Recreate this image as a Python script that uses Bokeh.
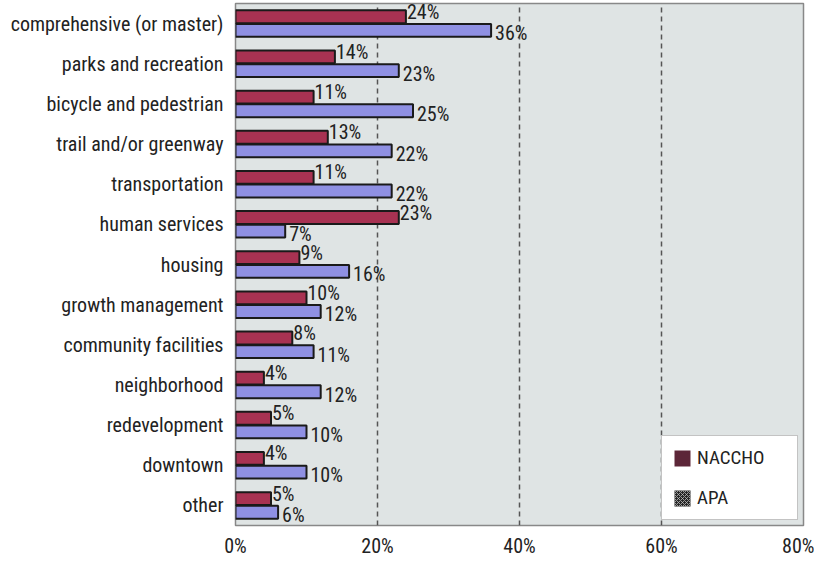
from bokeh.plotting import figure
from bokeh.models import ColumnDataSource, FactorRange, FixedTicker, Legend, LegendItem
from bokeh.transform import dodge
from bokeh.core.properties import value
from bokeh.embed import file_html
from bokeh.resources import INLINE

categories = ["comprehensive (or master)", "parks and recreation", "bicycle and pedestrian",
              "trail and/or greenway", "transportation", "human services", "housing",
              "growth management", "community facilities", "neighborhood", "redevelopment",
              "downtown", "other"]
naccho = [24, 14, 11, 13, 11, 23, 9, 10, 8, 4, 5, 4, 5]
apa = [36, 23, 25, 22, 22, 7, 16, 12, 11, 12, 10, 10, 6]
x_ticks = [0, 20, 40, 60, 80]
x_tick_labels = ["0%", "20%", "40%", "60%", "80%"]

FONT = "Roboto Condensed, Liberation Sans Narrow, Arial Narrow, sans-serif"
FS = "20px"

src = ColumnDataSource(dict(
    cat=categories, naccho=naccho, apa=apa,
    nlab=[f"{v}%" for v in naccho], alab=[f"{v}%" for v in apa],
))

p = figure(width=814, height=560, output_backend="svg", toolbar_location=None,
           y_range=FactorRange(*categories[::-1]), x_range=(0, 80),
           min_border_left=235, min_border_right=11, min_border_top=3, min_border_bottom=0)
p.background_fill_color = "#dfe4e4"
p.border_fill_color = "white"
p.outline_line_color = "#888888"
p.outline_line_width = 1.5

nr = p.hbar(y=dodge("cat", 0.17, range=p.y_range), right="naccho", left=0, height=0.32,
            source=src, fill_color="#a83252", line_color="#1a1a1a", line_width=2)
ar = p.hbar(y=dodge("cat", -0.17, range=p.y_range), right="apa", left=0, height=0.32,
            source=src, fill_color="#8f90e3", line_color="#1a1a1a", line_width=2)

p.text(x="naccho", y=dodge("cat", 0.17, range=p.y_range), text="nlab", source=src,
       x_offset=1, y_offset=-5, text_baseline="middle", text_align="left",
       text_font=value(FONT), text_font_size=FS, text_color="#222222")
p.text(x="apa", y=dodge("cat", -0.17, range=p.y_range), text="alab", source=src,
       x_offset=4, y_offset=3, text_baseline="middle", text_align="left",
       text_font=value(FONT), text_font_size=FS, text_color="#222222")

# legend swatches (zero-width bars at the axis origin)
ln = p.hbar(y=[categories[-1]], left=[0], right=[0], height=0.01,
            fill_color="#5c2638", line_color=None)
la = p.hbar(y=[categories[-1]], left=[0], right=[0], height=0.01,
            fill_color="#262626", line_color=None,
            hatch_pattern="x", hatch_color="#bbbbbb", hatch_scale=4, hatch_weight=0.8)
legend = Legend(items=[LegendItem(label="NACCHO", renderers=[ln]),
                       LegendItem(label="APA", renderers=[la])],
                location="bottom_right")
legend.background_fill_color = "white"
legend.background_fill_alpha = 1
legend.border_line_color = "#888888"
legend.border_line_width = 1.5
legend.label_text_font = FONT
legend.label_text_font_size = "19px"
legend.label_text_color = "#222222"
legend.glyph_width = 20
legend.glyph_height = 20
legend.spacing = 17
legend.padding = 10
legend.margin = 5
legend.label_width = 90
p.add_layout(legend)

p.xaxis.ticker = FixedTicker(ticks=x_ticks)
p.xaxis.major_label_overrides = {t: l for t, l in zip(x_ticks, x_tick_labels)}
p.xaxis.major_label_text_font = FONT
p.xaxis.major_label_text_font_size = FS
p.xaxis.major_label_text_color = "#222222"
p.xaxis.major_label_standoff = 8
p.xaxis.major_tick_out = 0
p.xaxis.major_tick_in = 0
p.xaxis.axis_line_color = None
p.xaxis.major_tick_line_color = None
p.xaxis.minor_tick_line_color = None

p.yaxis.major_label_text_font = FONT
p.yaxis.major_label_text_font_size = FS
p.yaxis.major_label_text_color = "#222222"
p.yaxis.major_label_standoff = 12
p.yaxis.major_tick_out = 0
p.yaxis.major_tick_in = 0
p.yaxis.axis_line_color = None
p.yaxis.major_tick_line_color = None

p.ygrid.grid_line_color = None
p.xgrid.ticker = FixedTicker(ticks=[20, 40, 60])
p.xgrid.grid_line_color = "#555555"
p.xgrid.grid_line_dash = "5 4"
p.xgrid.grid_line_width = 1.5

open("out.html", "w").write(file_html(p, INLINE))
